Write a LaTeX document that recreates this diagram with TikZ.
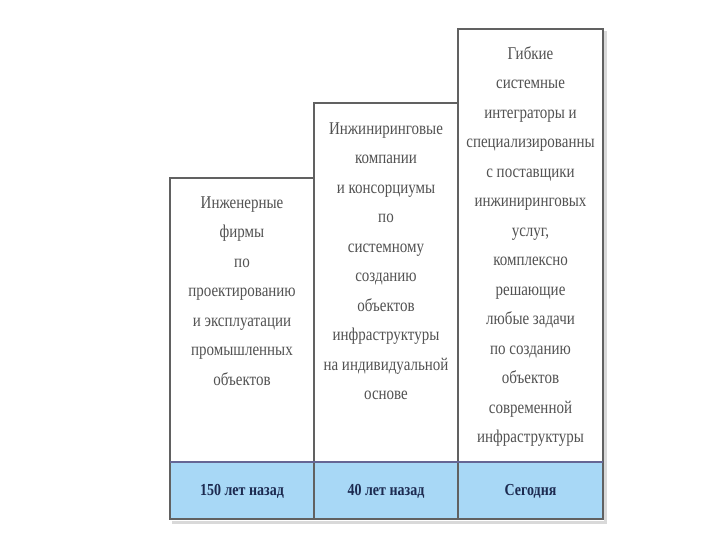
\documentclass[tikz,border=0pt]{standalone}
\usepackage{fontspec}
\setmainfont{Liberation Serif}
\begin{document}
\begin{tikzpicture}[x=1pt,y=-1pt,
  boxline/.style={draw=black!62, line width=1.8pt},
  bandline/.style={draw=black!70!blue!60, line width=2.6pt},
  bodytext/.style={inner sep=0pt, align=center, text=black!68, anchor=north,
    font=\fontsize{15}{24.6}\selectfont, yscale=1.2, transform shape},
  bandtext/.style={inner sep=0pt, text={rgb,255:red,28;green,42;blue,80}, font=\fontsize{14}{18}\selectfont\bfseries, yscale=1.2, transform shape}]
\useasboundingbox (0,0) rectangle (720,540);
\fill[white] (0,0) rectangle (720,540);
% shadow
\fill[black!15] (172,521) rectangle (606,524);
\fill[black!15] (604,31) rectangle (607,524);
% band
\fill[fill={rgb,255:red,168;green,216;blue,246}] (170,462) rectangle (603,519);
% boxes
\draw[boxline] (170,178) rectangle (314,519);
\draw[boxline] (314,103) rectangle (458,519);
\draw[boxline] (458,29) rectangle (603,519);
\draw[bandline] (170,462) -- (603,462);
% texts
\node[bodytext] (t1) at (242,196) {Инженерные\\фирмы\\по\\проектированию\\и эксплуатации\\промышленных\\объектов};
\node[bodytext] (t2) at (386,122) {Инжиниринговые\\компании\\и консорциумы\\по\\системному\\созданию\\объектов\\инфраструктуры\\на индивидуальной\\основе};
\node[bodytext] (t3) at (530.5,46) {Гибкие\\системные\\интеграторы и\\специализированны\\с поставщики\\инжиниринговых\\услуг,\\комплексно\\решающие\\любые задачи\\по созданию\\объектов\\современной\\инфраструктуры};
\node[bandtext] (b1) at (242,491) {150 лет назад};
\node[bandtext] (b2) at (386,491) {40 лет назад};
\node[bandtext] (b3) at (530.5,491) {Сегодня};
\end{tikzpicture}
\end{document}
